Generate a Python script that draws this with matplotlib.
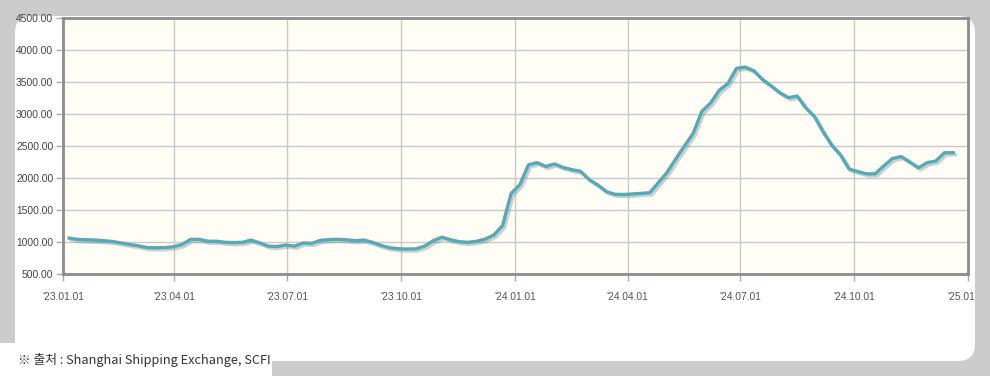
import matplotlib
matplotlib.use("Agg")
import matplotlib.pyplot as plt
import matplotlib.dates as mdates
import matplotlib.patheffects as pe
from matplotlib.patches import FancyBboxPatch, Rectangle
from matplotlib.transforms import Bbox, TransformedBbox
import pandas as pd

# SCFI hebdomadaire
dates = pd.date_range("2023-01-06", "2024-12-20", freq="7D")
scfi = [1061, 1040, 1035, 1030, 1020, 1008, 985, 960, 940, 912,
        910, 912, 925, 960, 1040, 1042, 1012, 1012, 995, 990,
        995, 1030, 985, 935, 930, 953, 935, 985, 978, 1026,
        1038, 1042, 1035, 1020, 1031, 995, 945, 910, 895, 890,
        893, 935, 1020, 1075, 1035, 1005, 995, 1010, 1045, 1110,
        1255, 1760, 1896, 2206, 2240, 2180, 2220, 2165, 2130, 2105,
        1975, 1890, 1786, 1745, 1742, 1750, 1760, 1770, 1930, 2090,
        2300, 2500, 2698, 3040, 3170, 3370, 3475, 3714, 3733, 3675,
        3540, 3440, 3333, 3255, 3281, 3095, 2960, 2720, 2510, 2360,
        2140, 2100, 2065, 2065, 2190, 2305, 2335, 2250, 2160, 2240,
        2265, 2395, 2395]
yticks = [500, 1000, 1500, 2000, 2500, 3000, 3500, 4000, 4500]
xticks = pd.date_range("2023-01-01", "2025-01-01", freq="QS")
source = "※ 출처 : Shanghai Shipping Exchange, SCFI"

fig = plt.figure(figsize=(9.9, 3.76), dpi=100)
fig.patch.set_facecolor("#cccccc")

# panneau blanc arrondi + encart de la source (sous les axes)
panel = FancyBboxPatch((0.15, 0.15), 9.6, 3.45, boxstyle="round,pad=0,rounding_size=0.17",
                       transform=fig.dpi_scale_trans, facecolor="white", edgecolor="none",
                       zorder=-10)
fig.patches.append(panel)
fig.patches.append(Rectangle((0, 0), 2.72, 0.33, transform=fig.dpi_scale_trans,
                             facecolor="white", edgecolor="none", zorder=-10))

ax = fig.add_axes([63 / 990, 1 - 274 / 376, 905 / 990, 256 / 376])
ax.set_facecolor("#fffdf6")
ax.plot(dates, scfi, color="#55a9b8", lw=2.4, solid_joinstyle="round",
        path_effects=[pe.SimpleLineShadow(offset=(1.5, -1.5), shadow_color="#777777", alpha=0.35),
                      pe.Normal()])

ax.set_xlim(pd.Timestamp("2023-01-01"), pd.Timestamp("2025-01-01"))
ax.set_ylim(500, 4500)
ax.set_yticks(yticks)
ax.set_yticklabels(["%.2f" % v for v in yticks])
ax.set_xticks(xticks)
ax.xaxis.set_major_formatter(mdates.DateFormatter("'%y.%m.%d"))
ax.grid(True, color="#c9c9c9", lw=1)
ax.set_axisbelow(True)

for s in ax.spines.values():
    s.set_color("#8c8c8c")
    s.set_linewidth(2)

ax.tick_params(axis="both", length=5, width=1, color="#aaaaaa", direction="out")
ax.tick_params(axis="y", labelsize=7.4, labelcolor="#444444", pad=2)
ax.tick_params(axis="x", labelsize=7.4, labelcolor="#555555", pad=8)
for lab in ax.get_yticklabels() + ax.get_xticklabels():
    lab.set_family(["Liberation Sans", "DejaVu Sans"])

fig.text(18 / 990, 1 - 360 / 376, source, fontsize=9.2, color="#333333",
         family=["Noto Sans CJK KR", "DejaVu Sans"], va="center", ha="left")

# le dernier libellé est coupé par le bord du panneau
fig.canvas.draw()
last = ax.get_xticklabels()[-1]
last.set_clip_on(True)
last.set_clip_box(TransformedBbox(Bbox([[0, 0], [9.75, 3.76]]), fig.dpi_scale_trans))

plt.savefig("out.png", dpi=100, facecolor=fig.get_facecolor())
